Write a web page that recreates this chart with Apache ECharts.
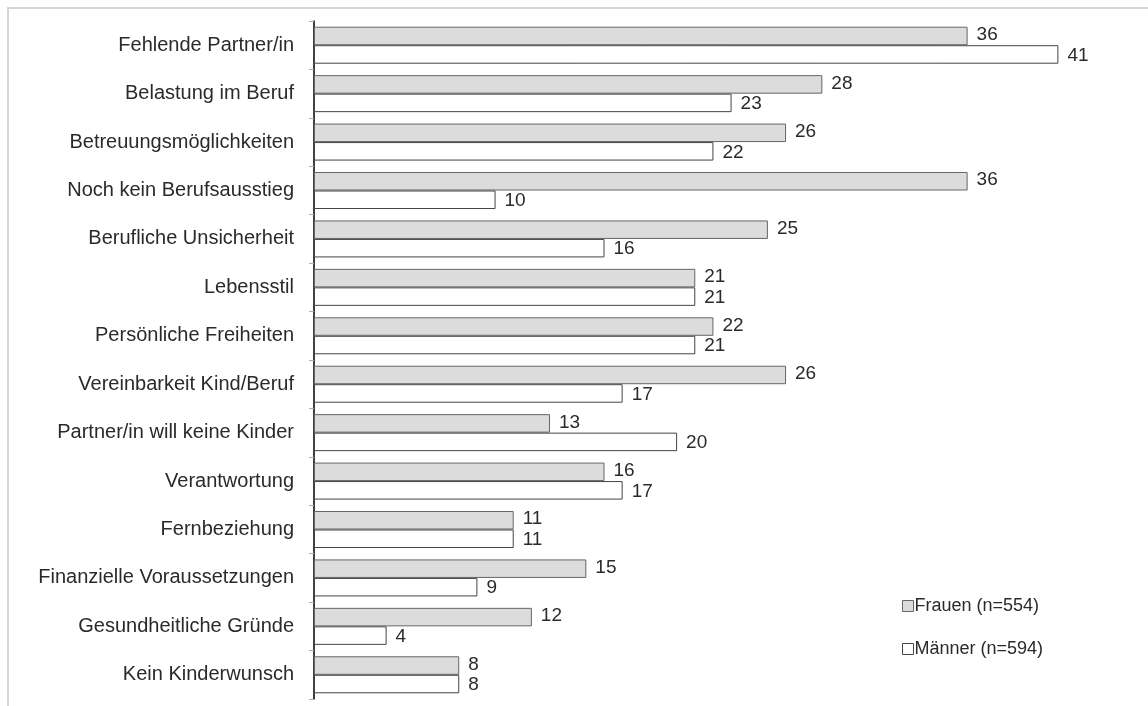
<!DOCTYPE html>
<html><head><meta charset="utf-8">
<script src="https://cdn.jsdelivr.net/npm/echarts@6/dist/echarts.min.js"></script>
<style>
html,body{margin:0;padding:0;background:#fff;overflow:hidden;}
#frame{position:absolute;left:7px;top:7px;width:1300px;height:900px;border:2px solid #d6d6d6;box-sizing:border-box;}
#chart{position:absolute;left:0;top:0;width:1148px;height:706px;}
</style></head>
<body>
<div id="frame"></div>
<div id="chart"></div>
<script>
const categories = ["Fehlende Partner/in","Belastung im Beruf","Betreuungsmöglichkeiten","Noch kein Berufsausstieg","Berufliche Unsicherheit","Lebensstil","Persönliche Freiheiten","Vereinbarkeit Kind/Beruf","Partner/in will keine Kinder","Verantwortung","Fernbeziehung","Finanzielle Voraussetzungen","Gesundheitliche Gründe","Kein Kinderwunsch"];
const frauen = [36,28,26,36,25,21,22,26,13,16,11,15,12,8];
const maenner = [41,23,22,10,16,21,21,17,20,17,11,9,4,8];
const seriesNames = ["Frauen (n=554)","Männer (n=594)"];

const chart = echarts.init(document.getElementById('chart'), null, {renderer:'canvas'});
const font = "'Liberation Sans', Arial, sans-serif";
const labelF = {show:true, position:'right', distance:9, fontSize:19, color:'#2a2a2a', fontFamily:font, offset:[0,-1]};
const labelM = {show:true, position:'right', distance:9, fontSize:19, color:'#2a2a2a', fontFamily:font, offset:[0,1]};
chart.setOption({
  animation:false,
  textStyle:{fontFamily:font},
  grid:{left:314, top:21, width:817, height:678},
  legend:{
    orient:'vertical', left:897, top:592, itemWidth:11, itemHeight:11, itemGap:25,
    icon:'rect',
    itemStyle:{borderWidth:1},
    textStyle:{fontSize:18, color:'#2a2a2a', fontFamily:font, padding:[0,0,0,-4]},
    data:seriesNames
  },
  xAxis:{type:'value', min:0, max:45, show:false},
  yAxis:{
    type:'category', data:categories, inverse:true,
    axisLine:{show:true, lineStyle:{color:'#000', width:1.5}},
    axisTick:{show:true, length:5, lineStyle:{color:'#aaa'}},
    axisLabel:{fontSize:20, color:'#2a2a2a', margin:20, fontFamily:font},
    splitLine:{show:false}
  },
  series:[
    {name:seriesNames[0], type:'bar', data:frauen, barWidth:18.5, barGap:'0%',
     itemStyle:{color:'#dcdcdc', borderColor:'#666', borderWidth:1}, label:labelF},
    {name:seriesNames[1], type:'bar', data:maenner, barWidth:18.5, barGap:'0%',
     itemStyle:{color:'#fff', borderColor:'#444', borderWidth:1}, label:labelM}
  ]
});
</script>
</body></html>
